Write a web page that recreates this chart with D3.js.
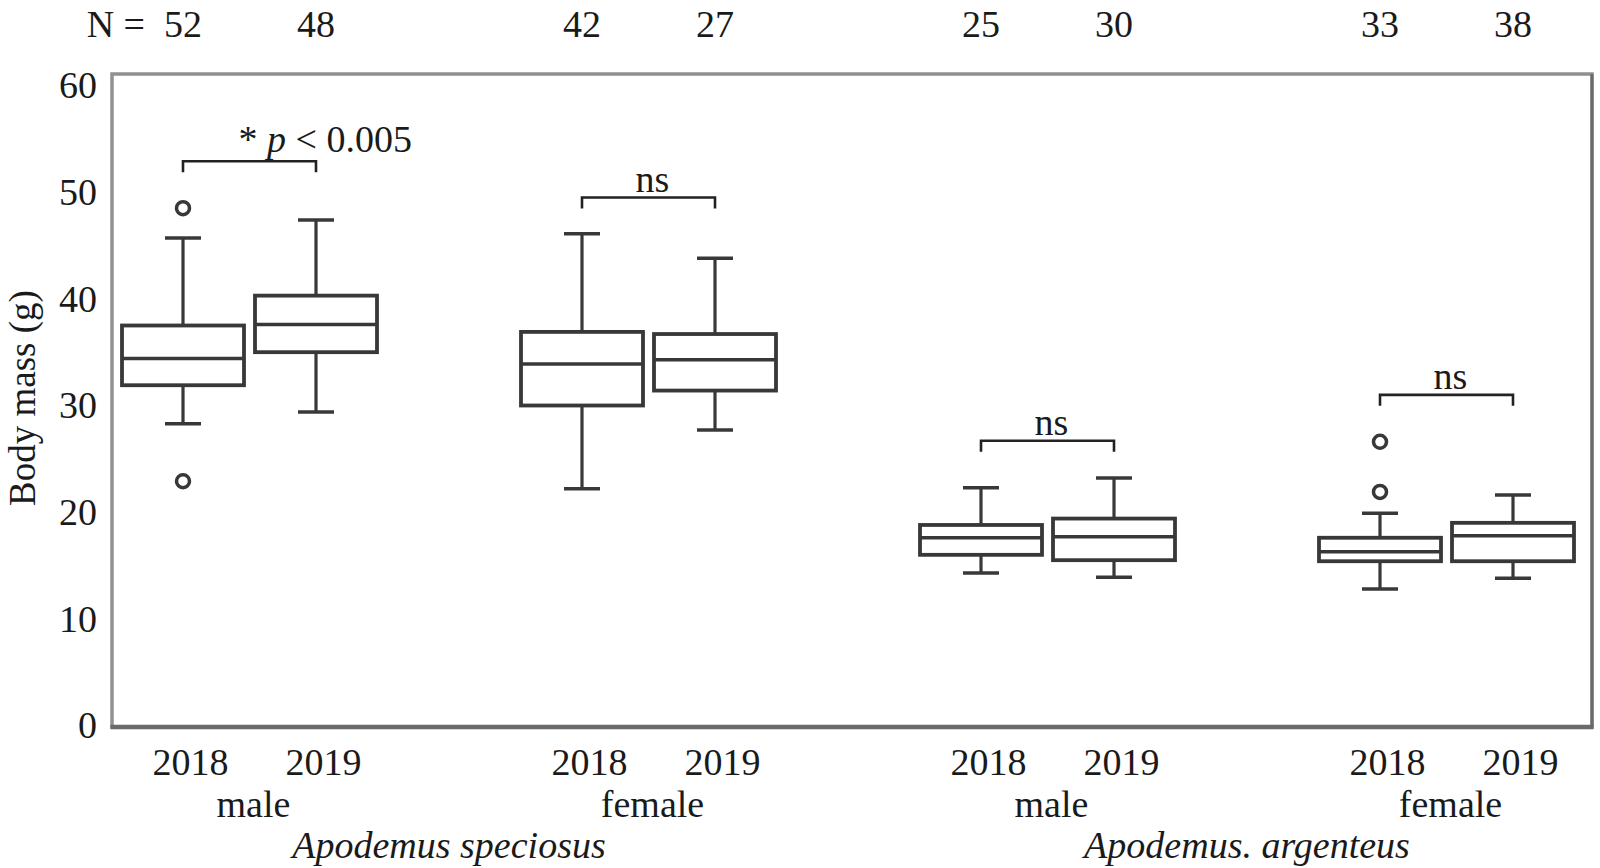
<!DOCTYPE html>
<html>
<head>
<meta charset="utf-8">
<script src="https://cdn.jsdelivr.net/npm/d3@7"></script>
<style>
  html, body { margin: 0; padding: 0; background: #fff; }
  svg { display: block; }
  text { font-family: "Liberation Serif", "Times New Roman", serif; fill: #1a1a1a; }
</style>
</head>
<body>
<svg id="chart" width="1600" height="868"></svg>
<script>
// ---------------- data ----------------
const speciesNames = ["Apodemus speciosus", "Apodemus. argenteus"];
const sexLabels = ["male", "female", "male", "female"];
const yearLabels = ["2018", "2019"];
const nValues = [52, 48, 42, 27, 25, 30, 33, 38];
const whiskerLow  = [28.3, 29.4, 22.2, 27.7, 14.3, 13.9, 12.8, 13.8];
const q1Values    = [31.9, 35.0, 30.0, 31.4, 16.0, 15.5, 15.4, 15.4];
const medianValues= [34.4, 37.6, 33.9, 34.3, 17.6, 17.7, 16.3, 17.8];
const q3Values    = [37.5, 40.3, 36.9, 36.7, 18.8, 19.4, 17.6, 19.0];
const whiskerHigh = [45.7, 47.4, 46.1, 43.8, 22.3, 23.2, 19.9, 21.6];
const outlierValues = [[48.5, 22.9], [], [], [], [], [], [26.6, 21.9], []];
const bracketLevels = [52.9, 49.5, 26.7, 31.0];
const bracketLabels = ["sig", "ns", "ns", "ns"];
const yTicks = [0, 10, 20, 30, 40, 50, 60];

// ---------------- layout ----------------
const svg = d3.select("#chart");
const frame = { left: 112, right: 1592, top: 74, bottom: 727 };
const font = 38;

// slot index: group*3 + year (empty slot between groups)
const boxes = nValues.map((n, i) => {
  const g = Math.floor(i / 2), yr = i % 2;
  return {
    i, g, yr, slot: g * 3 + yr, n,
    lo: whiskerLow[i], q1: q1Values[i], med: medianValues[i], q3: q3Values[i], hi: whiskerHigh[i],
    out: outlierValues[i]
  };
});

const x = d3.scaleLinear().domain([0, 10]).range([183, 1513]);
const y = d3.scaleLinear().domain([0, 60]).range([725.5, 85.5]);

const boxW = 122, capW = 36;
const stroke = "#383838";

// frame
svg.append("rect")
  .attr("x", frame.left).attr("y", frame.top)
  .attr("width", frame.right - frame.left).attr("height", frame.bottom - frame.top)
  .attr("fill", "none").attr("stroke", "#909090").attr("stroke-width", 3.5);
svg.append("line")
  .attr("x1", frame.right).attr("x2", frame.right).attr("y1", frame.top).attr("y2", frame.bottom)
  .attr("stroke", "#6a6a6a").attr("stroke-width", 3);
svg.append("line")
  .attr("x1", frame.left - 1.5).attr("x2", frame.right + 1.5).attr("y1", frame.bottom).attr("y2", frame.bottom)
  .attr("stroke", "#6a6a6a").attr("stroke-width", 4.5);

// y axis
const yAxis = svg.append("g")
  .attr("transform", `translate(${frame.left},0)`)
  .call(d3.axisLeft(y).tickValues(yTicks).tickSize(0).tickPadding(15).tickFormat(d3.format("d")));
yAxis.select(".domain").remove();
yAxis.selectAll("text").style("font-size", font + "px").attr("fill", "#1a1a1a")
  .style("font-family", '"Liberation Serif", "Times New Roman", serif');

// y axis title
svg.append("text")
  .attr("transform", `translate(35,398) rotate(-90)`)
  .attr("text-anchor", "middle")
  .style("font-size", "37px")
  .text("Body mass (g)");

// x axis (years)
const xAxis = svg.append("g")
  .attr("transform", `translate(0,${frame.bottom})`)
  .call(d3.axisBottom(x).tickValues(boxes.map(b => b.slot)).tickSize(0).tickPadding(21)
    .tickFormat(s => yearLabels[s % 3]));
xAxis.select(".domain").remove();
xAxis.selectAll("text").style("font-size", font + "px").attr("fill", "#1a1a1a").attr("dx", 7)
  .style("font-family", '"Liberation Serif", "Times New Roman", serif');

// sex labels
svg.append("g").selectAll("text")
  .data(sexLabels)
  .join("text")
  .attr("x", (d, g) => (x(g * 3) + x(g * 3 + 1)) / 2 + 4)
  .attr("y", 817)
  .attr("text-anchor", "middle")
  .style("font-size", font + "px")
  .text(d => d);

// species labels
svg.append("g").selectAll("text")
  .data(speciesNames)
  .join("text")
  .attr("x", (d, s) => (x(s * 6) + x(s * 6 + 4)) / 2)
  .attr("y", 858)
  .attr("text-anchor", "middle")
  .style("font-size", font + "px")
  .style("font-style", "italic")
  .text(d => d);

// N labels
svg.append("text")
  .attr("x", x(0) - 38).attr("y", 37)
  .attr("text-anchor", "end")
  .style("font-size", font + "px")
  .text("N =");
svg.append("g").selectAll("text")
  .data(boxes)
  .join("text")
  .attr("x", d => x(d.slot)).attr("y", 37)
  .attr("text-anchor", "middle")
  .style("font-size", font + "px")
  .text(d => d.n);

// boxes
const bg = svg.append("g").selectAll("g").data(boxes).join("g");
bg.append("line").attr("x1", d => x(d.slot)).attr("x2", d => x(d.slot))
  .attr("y1", d => y(d.hi)).attr("y2", d => y(d.q3))
  .attr("stroke", stroke).attr("stroke-width", 3.2);
bg.append("line").attr("x1", d => x(d.slot)).attr("x2", d => x(d.slot))
  .attr("y1", d => y(d.q1)).attr("y2", d => y(d.lo))
  .attr("stroke", stroke).attr("stroke-width", 3.2);
bg.append("line").attr("x1", d => x(d.slot) - capW / 2).attr("x2", d => x(d.slot) + capW / 2)
  .attr("y1", d => y(d.hi)).attr("y2", d => y(d.hi))
  .attr("stroke", stroke).attr("stroke-width", 3.5);
bg.append("line").attr("x1", d => x(d.slot) - capW / 2).attr("x2", d => x(d.slot) + capW / 2)
  .attr("y1", d => y(d.lo)).attr("y2", d => y(d.lo))
  .attr("stroke", stroke).attr("stroke-width", 3.5);
bg.append("rect")
  .attr("x", d => x(d.slot) - boxW / 2).attr("width", boxW)
  .attr("y", d => y(d.q3)).attr("height", d => y(d.q1) - y(d.q3))
  .attr("fill", "#fff").attr("stroke", stroke).attr("stroke-width", 3.8);
bg.append("line").attr("x1", d => x(d.slot) - boxW / 2).attr("x2", d => x(d.slot) + boxW / 2)
  .attr("y1", d => y(d.med)).attr("y2", d => y(d.med))
  .attr("stroke", stroke).attr("stroke-width", 3.5);
bg.selectAll("circle").data(d => d.out.map(v => ({ v, slot: d.slot }))).join("circle")
  .attr("cx", d => x(d.slot)).attr("cy", d => y(d.v)).attr("r", 6.5)
  .attr("fill", "#fff").attr("stroke", stroke).attr("stroke-width", 3.5);

// significance brackets
const drop = 11;
const br = svg.append("g").selectAll("g").data(bracketLevels).join("g");
br.append("path")
  .attr("d", (lvl, g) => {
    const x1 = x(g * 3), x2 = x(g * 3 + 1), yy = y(lvl);
    return `M${x1},${yy + drop}V${yy}H${x2}V${yy + drop}`;
  })
  .attr("fill", "none").attr("stroke", "#222").attr("stroke-width", 2.6);
br.each(function (lvl, g) {
  const sel = d3.select(this);
  const mid = (x(g * 3) + x(g * 3 + 1)) / 2;
  if (bracketLabels[g] === "ns") {
    sel.append("text").attr("x", mid + 4).attr("y", y(lvl) - 6)
      .attr("text-anchor", "middle").style("font-size", font + "px").text("ns");
  } else {
    const t = sel.append("text").attr("x", mid - 11).attr("y", y(lvl) - 9)
      .attr("text-anchor", "start").style("font-size", font + "px");
    t.append("tspan").text("* ");
    t.append("tspan").style("font-style", "italic").text("p");
    t.append("tspan").text(" < 0.005");
  }
});
</script>
</body>
</html>
